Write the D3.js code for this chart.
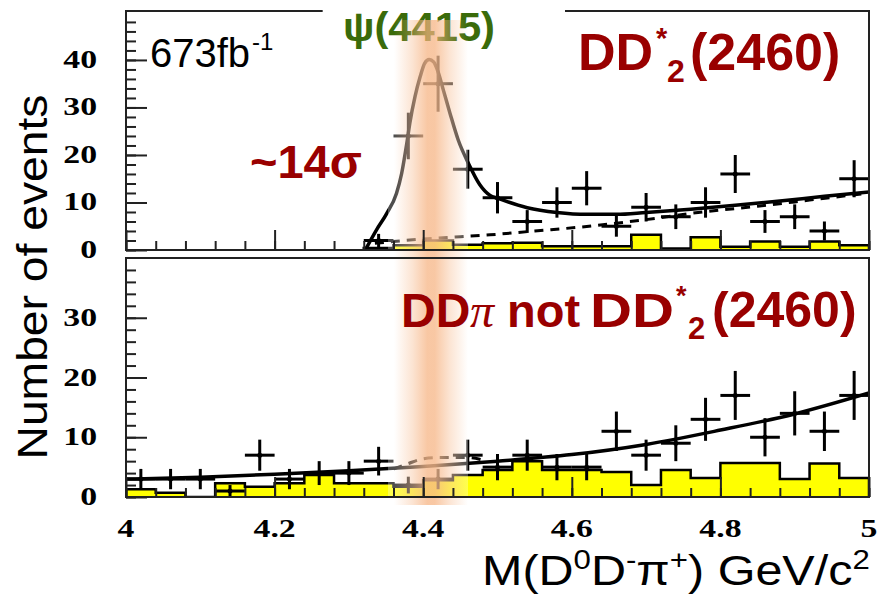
<!DOCTYPE html>
<html><head><meta charset="utf-8">
<script src="https://cdn.jsdelivr.net/npm/d3@7"></script>
<style>html,body{margin:0;padding:0;background:#fff;}svg{display:block;}</style>
</head><body>
<script>
// ---------- data ----------
const xTicks = [4, 4.2, 4.4, 4.6, 4.8, 5];
const xTickLabels = ["4", "4.2", "4.4", "4.6", "4.8", "5"];
const topYTicks = [0, 10, 20, 30, 40];
const botYTicks = [0, 10, 20, 30];

// top panel: DD*2(2460) data
const topX   = [4.34, 4.38, 4.42, 4.46, 4.50, 4.54, 4.58, 4.62, 4.66, 4.70, 4.74, 4.78, 4.82, 4.86, 4.90, 4.94, 4.98];
const topY   = [2, 24, 35, 17, 11, 6, 10, 13, 5, 9, 7, 10, 16, 6, 7, 4, 15];
const topErr = [1.4, 4.9, 5.9, 4.1, 3.3, 2.4, 3.2, 3.6, 2.2, 3.0, 2.6, 3.2, 4.0, 2.4, 2.6, 2.0, 3.9];
const topBkg = [0.4, 1.0, 2.0, 1.1, 1.4, 1.5, 0.8, 0.8, 0.8, 3.2, 0.3, 2.7, 0.7, 1.8, 0.7, 1.8, 1.0];
const topFitM = [4.322, 4.337, 4.351, 4.364, 4.371, 4.378, 4.382, 4.389, 4.396, 4.402, 4.408, 4.414, 4.420, 4.427, 4.436, 4.447, 4.461, 4.476, 4.490, 4.50, 4.54, 4.58, 4.62, 4.66, 4.70, 4.76, 4.82, 4.88, 4.94, 5.00];
const topFitV = [0, 4.2, 7.7, 11.9, 16.1, 22.5, 26.7, 32.3, 36.5, 39.3, 40.1, 39.6, 37.5, 33.7, 28.8, 23.2, 18.2, 13.8, 11.5, 10.9, 8.9, 7.9, 7.5, 7.5, 7.9, 8.6, 9.4, 10.3, 11.3, 12.2];
const topBgM = [4.335, 4.36, 4.40, 4.45, 4.49, 4.55, 4.61, 4.69, 4.77, 4.85, 4.92, 5.00];
const topBgV = [1.4, 1.8, 2.3, 2.8, 3.2, 4.0, 4.8, 6.2, 7.9, 9.2, 10.5, 12.0];

// bottom panel: DDpi not DD*2(2460)
const botX   = [4.02, 4.06, 4.10, 4.14, 4.18, 4.22, 4.26, 4.30, 4.34, 4.38, 4.42, 4.46, 4.50, 4.54, 4.58, 4.62, 4.66, 4.70, 4.74, 4.78, 4.82, 4.86, 4.90, 4.94, 4.98];
const botY   = [3, 3, 3, 1, 7, 3, 4, 4, 6, 2, 3, 7, 5, 7, 5, 5, 11, 7, 9, 13, 17, 10, 14, 11, 17];
const botErr = [1.7, 1.7, 1.7, 1.0, 2.6, 1.7, 2.0, 2.0, 2.4, 1.4, 1.7, 2.6, 2.2, 2.6, 2.2, 2.2, 3.3, 2.6, 3.0, 3.6, 4.1, 3.2, 3.7, 3.3, 4.1];
const botBkg = [1.3, 0.7, 0, 2.3, 1.7, 2.3, 3.7, 2.3, 2.3, 1.7, 2.8, 3.7, 4.5, 6.0, 4.5, 4.5, 4.2, 2.0, 4.5, 3.2, 5.7, 5.7, 3.0, 5.6, 3.2];
const botFitM = [4.0, 4.1, 4.2, 4.3, 4.4, 4.5, 4.6, 4.7, 4.8, 4.9, 5.0];
const botFitV = [3.0, 3.3, 3.8, 4.4, 5.1, 6.0, 7.1, 8.8, 11.2, 13.9, 17.4];
const botDashM = [4.36, 4.38, 4.40, 4.42, 4.44, 4.46, 4.48];
const botDashV = [4.7, 5.6, 6.4, 6.6, 6.6, 6.6, 6.2];
const binHalf = 0.02;

// ---------- layout ----------
const W = 882, H = 596;
const L = 126, R = 869;
const svg = d3.select("body").append("svg").attr("width", W).attr("height", H);
const x = d3.scaleLinear().domain([4, 5]).range([L, R]);
const yT = d3.scaleLinear().domain([0, 50.3]).range([250, 11]);
const yB = d3.scaleLinear().domain([0, 40]).range([497, 258]);

const defs = svg.append("defs");
[["clipT", 11, 250], ["clipB", 258, 497]].forEach(([id, t, b]) => {
  defs.append("clipPath").attr("id", id).append("rect")
    .attr("x", L).attr("y", t).attr("width", R - L).attr("height", b - t);
});
const gradH = defs.append("linearGradient").attr("id", "band").attr("x1", "0").attr("x2", "1").attr("y1", "0").attr("y2", "0");
[[0, 0], [0.25, 0.35], [0.45, 0.72], [0.55, 0.72], [0.75, 0.35], [1, 0]].forEach(([o, a]) => {
  gradH.append("stop").attr("offset", o).attr("stop-color", "rgb(246,178,128)").attr("stop-opacity", a);
});

function drawPanel(g, y, xs, ys, errs, bkg, clipId) {
  const pg = g.append("g").attr("clip-path", `url(#${clipId})`);
  const pts = xs.map((c, i) => [c - binHalf, bkg[i]]);
  pts.push([xs[xs.length - 1] + binHalf, bkg[bkg.length - 1]]);
  pg.append("path").datum(pts)
    .attr("d", d3.area().curve(d3.curveStepAfter).x(d => x(d[0])).y0(y(0)).y1(d => y(d[1])))
    .attr("fill", "#ffff00");
  const outline = [[xs[0] - binHalf, 0]].concat(pts, [[xs[xs.length - 1] + binHalf, 0]]);
  pg.append("path").datum(outline)
    .attr("d", d3.line().curve(d3.curveStepAfter).x(d => x(d[0])).y(d => y(d[1])))
    .attr("fill", "none").attr("stroke", "#000").attr("stroke-width", 2.5);
  return pg;
}
function drawPoints(pg, y, xs, ys, errs) {
  const g = pg.append("g").attr("stroke", "#000").attr("stroke-width", 3);
  xs.forEach((c, i) => {
    g.append("line").attr("x1", x(c - binHalf)).attr("x2", x(c + binHalf)).attr("y1", y(ys[i])).attr("y2", y(ys[i]));
    g.append("line").attr("x1", x(c)).attr("x2", x(c)).attr("y1", y(Math.max(0, ys[i] - errs[i]))).attr("y2", y(ys[i] + errs[i]));
    g.append("circle").attr("cx", x(c)).attr("cy", y(ys[i])).attr("r", 2.5).attr("fill", "#000").attr("stroke", "none");
  });
}
function curve(pg, y, ms, vs, dash, w) {
  pg.append("path").datum(ms.map((m, i) => [m, vs[i]]))
    .attr("d", d3.line().curve(d3.curveMonotoneX).x(d => x(d[0])).y(d => y(d[1])))
    .attr("fill", "none").attr("stroke", "#000").attr("stroke-width", w)
    .attr("stroke-dasharray", dash ? "9,7" : null);
}

// top panel
const gT = svg.append("g");
const pT = drawPanel(gT, yT, topX, topY, topErr, topBkg, "clipT");
curve(pT, yT, topBgM, topBgV, true, 3);
curve(pT, yT, topFitM, topFitV, false, 3.5);
drawPoints(pT, yT, topX, topY, topErr);

// bottom panel
const gB = svg.append("g");
const pB = drawPanel(gB, yB, botX, botY, botErr, botBkg, "clipB");
curve(pB, yB, botDashM, botDashV, true, 3);
curve(pB, yB, botFitM, botFitV, false, 3.5);
drawPoints(pB, yB, botX, botY, botErr);

// ---------- psi label (under the band) ----------
const RED = "#990000";
svg.append("text").attr("x", 343).attr("y", 41).attr("font-size", 41).attr("font-weight", "bold")
  .attr("font-family", "Liberation Sans, Arial, sans-serif")
  .attr("textLength", 152).attr("lengthAdjust", "spacingAndGlyphs")
  .attr("fill", "#3a6b0a").text("ψ(4415)");

// band overlay
svg.append("rect").attr("x", 388).attr("y", 46).attr("width", 80).attr("height", 459)
  .attr("fill", "#fff").attr("opacity", 0.3);
svg.append("rect").attr("x", 394).attr("y", 20).attr("width", 74).attr("height", 485)
  .attr("fill", "url(#band)");

// ---------- frames & ticks ----------
const fr = svg.append("g").attr("stroke", "#222").attr("stroke-width", 2).attr("fill", "none");
fr.append("path").attr("d", `M${x(4.2647)},11 H${L} V250 H${R} V11 H565`);
fr.append("rect").attr("x", L).attr("y", 258).attr("width", R - L).attr("height", 239);

function yTicks(y, vals, maxV) {
  const major = svg.append("g").attr("transform", `translate(${L},0)`)
    .call(d3.axisLeft(y).tickValues(vals).tickSize(-21).tickFormat(""));
  const minor = svg.append("g").attr("transform", `translate(${L},0)`)
    .call(d3.axisLeft(y).tickValues(d3.range(0, maxV, 2)).tickSize(-10).tickFormat(""));
  [major, minor].forEach(a => { a.select(".domain").remove(); a.selectAll("line").attr("stroke", "#222").attr("stroke-width", 2); });
}
yTicks(yT, topYTicks, 50);
yTicks(yB, botYTicks, 40);
function xTicksAt(yPix) {
  const major = svg.append("g").attr("transform", `translate(0,${yPix})`)
    .call(d3.axisBottom(x).tickValues(xTicks).tickSize(-20).tickFormat(""));
  const minor = svg.append("g").attr("transform", `translate(0,${yPix})`)
    .call(d3.axisBottom(x).tickValues(d3.range(4, 5.001, 0.04)).tickSize(-9).tickFormat(""));
  [major, minor].forEach(a => { a.select(".domain").remove(); a.selectAll("line").attr("stroke", "#222").attr("stroke-width", 2); });
}
xTicksAt(250);
xTicksAt(497);

// tick labels (bold serif, stretched)
const tl = svg.append("g").attr("font-family", "Liberation Serif, Times New Roman, serif").attr("font-weight", "bold").attr("font-size", 25).attr("fill", "#000");
xTicks.forEach((v, i) => {
  tl.append("text").attr("transform", `translate(${x(v)},537) scale(1.35,1)`).attr("text-anchor", "middle").text(xTickLabels[i]);
});
topYTicks.forEach(v => {
  tl.append("text").attr("transform", `translate(97,${yT(v) + 8}) scale(1.35,1)`).attr("text-anchor", "end").text(v);
});
botYTicks.forEach(v => {
  tl.append("text").attr("transform", `translate(97,${yB(v) + 8}) scale(1.35,1)`).attr("text-anchor", "end").text(v);
});

// axis titles
const at = svg.append("g").attr("font-family", "Liberation Sans, Arial, sans-serif").attr("fill", "#000");
at.append("text").attr("transform", "translate(47,277) rotate(-90)").attr("text-anchor", "middle")
  .attr("font-size", 42).attr("textLength", 365).attr("lengthAdjust", "spacingAndGlyphs").text("Number of events");
const xt = at.append("text").attr("x", 0).attr("y", 0).attr("font-size", 42);
xt.append("tspan").text("M(D");
xt.append("tspan").attr("dy", -16).attr("font-size", 27).text("0");
xt.append("tspan").attr("dy", 16).text("D");
xt.append("tspan").attr("dy", -16).attr("font-size", 27).text("-");
xt.append("tspan").attr("dy", 16).text("π");
xt.append("tspan").attr("dy", -16).attr("font-size", 27).text("+");
xt.append("tspan").attr("dy", 16).text(") GeV/c");
xt.append("tspan").attr("dy", -16).attr("font-size", 27).text("2");
const xtw = xt.node().getBBox().width;
xt.attr("transform", `translate(482,585) scale(${388 / xtw},1)`);

// annotations
const ann = svg.append("g").attr("font-family", "Liberation Sans, Arial, sans-serif");
ann.append("text").attr("x", 150).attr("y", 67).attr("font-size", 40).attr("fill", "#000").text("673fb");
ann.append("text").attr("x", 252).attr("y", 50).attr("font-size", 24).attr("fill", "#000").text("-1");
ann.append("text").attr("x", 250).attr("y", 178).attr("font-size", 47).attr("font-weight", "bold").attr("fill", RED).text("~14σ");

const red = ann.append("g").attr("font-weight", "bold").attr("fill", RED);
// top label: DD*2(2460)
red.append("text").attr("x", 578).attr("y", 70).attr("font-size", 52).text("DD");
red.append("text").attr("x", 656).attr("y", 48).attr("font-size", 29).text("*");
red.append("text").attr("x", 667).attr("y", 82).attr("font-size", 32).text("2");
red.append("text").attr("x", 690).attr("y", 70).attr("font-size", 52).text("(2460)");
// bottom label: DDpi not DD*2(2460)
red.append("text").attr("x", 401).attr("y", 327).attr("font-size", 48).text("DD");
red.append("text").attr("x", 470).attr("y", 327).attr("font-size", 48).attr("font-style", "italic")
  .attr("font-family", "Liberation Serif, serif").attr("font-weight", "normal").text("π");
red.append("text").attr("x", 507).attr("y", 327).attr("font-size", 47).text("not");
red.append("text").attr("x", 590).attr("y", 327).attr("font-size", 48)
  .attr("textLength", 84).attr("lengthAdjust", "spacingAndGlyphs").text("DD");
red.append("text").attr("x", 676).attr("y", 305).attr("font-size", 27).text("*");
red.append("text").attr("x", 688).attr("y", 339).attr("font-size", 31).text("2");
red.append("text").attr("x", 712).attr("y", 327).attr("font-size", 50).text("(2460)");
</script>
</body></html>
